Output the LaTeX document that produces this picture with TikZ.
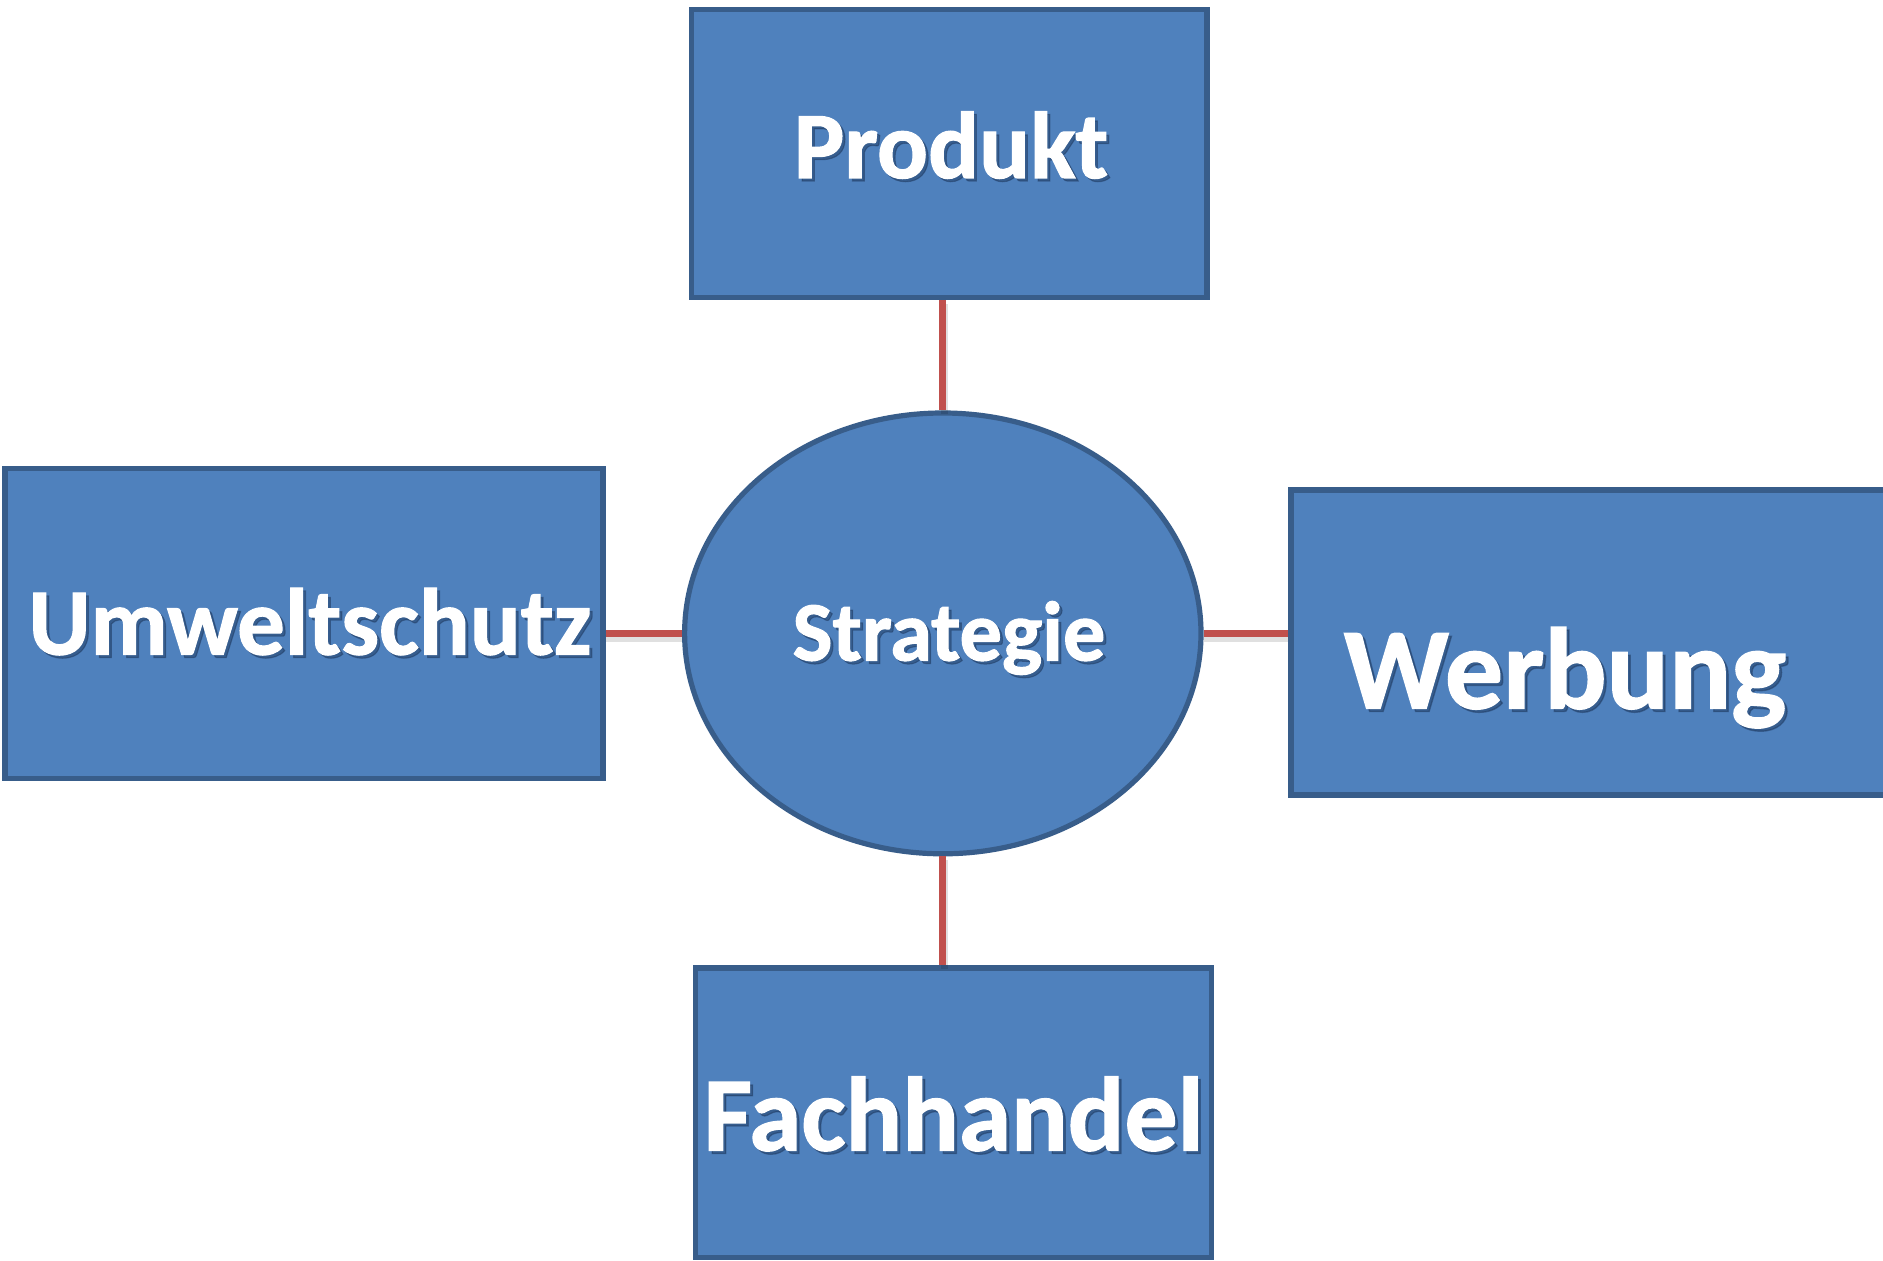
\documentclass[tikz,border=0pt]{standalone}
\usepackage{fontspec}
\setmainfont{Carlito}[BoldFeatures={FakeBold=1.2}]
\usetikzlibrary{shapes.geometric}
\definecolor{boxfill}{HTML}{4F81BD}
\definecolor{boxline}{HTML}{385D8A}
\definecolor{linkred}{HTML}{C0504D}
\definecolor{txtshadow}{HTML}{1F3A60}
\begin{document}
\begin{tikzpicture}[x=0.5pt,y=-0.5pt,
  box/.style={draw=boxline,fill=boxfill,line width=2.6pt,rectangle,inner sep=0pt},
  link/.style={draw=linkred,line width=3.6pt},
  linkshadow/.style={draw=black,opacity=0.12,line width=3.6pt},
  label/.style={text=white,font=\bfseries,anchor=base,inner sep=0pt},
  labelshadow/.style={text=txtshadow,opacity=0.5,font=\bfseries,anchor=base,inner sep=0pt}]
\useasboundingbox (0,0) rectangle (1883,1261);
\clip (0,0) rectangle (1883,1261);
% boxes
\node[box,minimum width=257.6pt,minimum height=144.1pt] (prod) at (949.3,153.7) {};
\node[box,minimum width=299pt,minimum height=154.9pt] (umw) at (303.9,623.3) {};
\node[box,minimum width=330pt,minimum height=152.5pt] (werb) at (1621,642.5) {};
\node[box,minimum width=258.2pt,minimum height=144.7pt] (fach) at (953.5,1112.7) {};
\node[box,ellipse,minimum width=258.2pt,minimum height=220.4pt] (ell) at (942.8,633.4) {};
% connectors (with faint shadow)
\draw[linkshadow] ([xshift=1pt,yshift=-2pt]ell.north |- prod.south) -- ([xshift=1pt,yshift=-2pt]ell.north);
\draw[linkshadow] ([yshift=-2.5pt]umw.east |- ell.west) -- ([yshift=-2.5pt]ell.west);
\draw[linkshadow] ([yshift=-2.5pt]ell.east) -- ([yshift=-2.5pt]ell.east -| werb.west);
\draw[linkshadow] ([xshift=1pt,yshift=-2pt]ell.south) -- ([xshift=1pt,yshift=-2pt]ell.south |- fach.north);
\draw[link] (ell.north |- prod.south) -- (ell.north);
\draw[link] (umw.east |- ell.west) -- (ell.west);
\draw[link] (ell.east) -- (ell.east -| werb.west);
\draw[link] (ell.south) -- (ell.south |- fach.north);
% labels with shadow
\node[labelshadow,font=\fontsize{47.5}{50}\selectfont\bfseries] (sprod) at (954,181) {Produkt};
\node[label,font=\fontsize{47.5}{50}\selectfont\bfseries] (tprod) at (951,178) {Produkt};
\node[labelshadow,font=\fontsize{47.5}{50}\selectfont\bfseries] (sumw) at (313,657.5) {Umweltschutz};
\node[label,font=\fontsize{47.5}{50}\selectfont\bfseries] (tumw) at (310,654.5) {Umweltschutz};
\node[labelshadow,font=\fontsize{42.3}{46}\selectfont\bfseries] (sstr) at (952,663.5) {Strategie};
\node[label,font=\fontsize{42.3}{46}\selectfont\bfseries] (tstr) at (949,660.5) {Strategie};
\node[labelshadow,font=\fontsize{58}{62}\selectfont\bfseries] (swerb) at (1568,711.5) {Werbung};
\node[label,font=\fontsize{58}{62}\selectfont\bfseries] (twerb) at (1565,708.5) {Werbung};
\node[labelshadow,font=\fontsize{52.8}{56}\selectfont\bfseries] (sfach) at (956.5,1153.5) {Fachhandel};
\node[label,font=\fontsize{52.8}{56}\selectfont\bfseries] (tfach) at (953.5,1150.5) {Fachhandel};
\end{tikzpicture}
\end{document}
